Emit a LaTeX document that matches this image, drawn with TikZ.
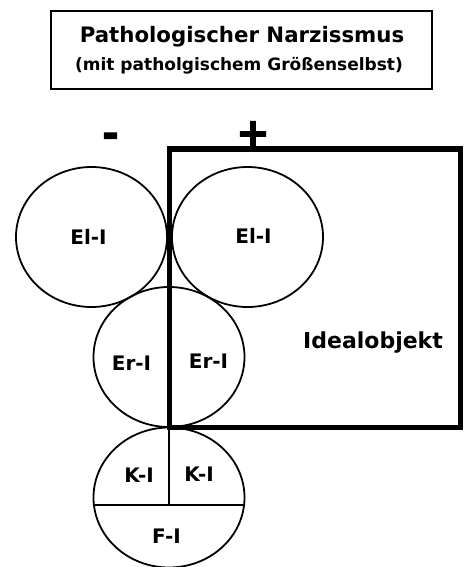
\documentclass[tikz,border=0pt]{standalone}
\usepackage{fontspec}
\setmainfont{DejaVu Sans}
\newfontfamily\heavyfont{DejaVu Sans}[BoldFeatures={FakeBold=2.5}]
\usetikzlibrary{shapes.geometric}
\tikzset{
  ring/.style={draw, ellipse, line width=1.8pt, inner sep=0pt, minimum width=151pt, minimum height=140pt},
  lbl/.style={inner sep=0pt, anchor=base, font=\fontsize{20}{22}\selectfont\bfseries},
  sign/.style={inner sep=0pt, anchor=center, font=\fontsize{40}{42}\selectfont\heavyfont\bfseries},
  thin/.style={line width=1.8pt},
  frame/.style={line width=5.8pt}
}
\begin{document}
\begin{tikzpicture}[x=1pt,y=-1pt]
\useasboundingbox (0,0) rectangle (463,567);
% title
\node[draw, thin, minimum width=381pt, minimum height=78pt, inner sep=0pt] (title) at (241.5,50) {};
\node[inner sep=0pt, anchor=base, font=\fontsize{21.3}{23}\selectfont\bfseries] (t1) at (242,43) {Pathologischer Narzissmus};
\node[inner sep=0pt, anchor=base, font=\fontsize{17}{19}\selectfont\bfseries] (t2) at (239,71) {(mit patholgischem Größenselbst)};
% circles
\node[ring] (elL) at (91.5,237) {};
\node[ring] (elR) at (247.5,237) {};
\node[ring] (er) at (169,357) {};
\node[ring] (bot) at (169,497.5) {};
% lines in bottom circle
\coordinate (hl) at (94.5,505);
\coordinate (hr) at (243.5,505);
\coordinate (vt) at (169,428);
\coordinate (vb) at (169,505);
\draw[thin] (hl) -- (hr);
\draw[thin] (vt) -- (vb);
% ideal object frame
\draw[frame] (169.5,148.8) rectangle (460.5,427.5);
% signs
\node[sign] (minus) at (110.5,140) {-};
\node[sign] (plus) at (253,134) {+};
% labels
\node[lbl] (l1) at (88.5,244) {El-I};
\node[lbl] (l2) at (253.5,243) {El-I};
\node[lbl] (l3) at (131.5,370) {Er-I};
\node[lbl] (l4) at (208.5,368) {Er-I};
\node[lbl] (l5) at (139,482) {K-I};
\node[lbl] (l6) at (199,481) {K-I};
\node[lbl] (l7) at (166.5,543) {F-I};
\node[lbl, font=\fontsize{22}{24}\selectfont\bfseries] (ideal) at (373,348) {Idealobjekt};
\end{tikzpicture}
\end{document}
